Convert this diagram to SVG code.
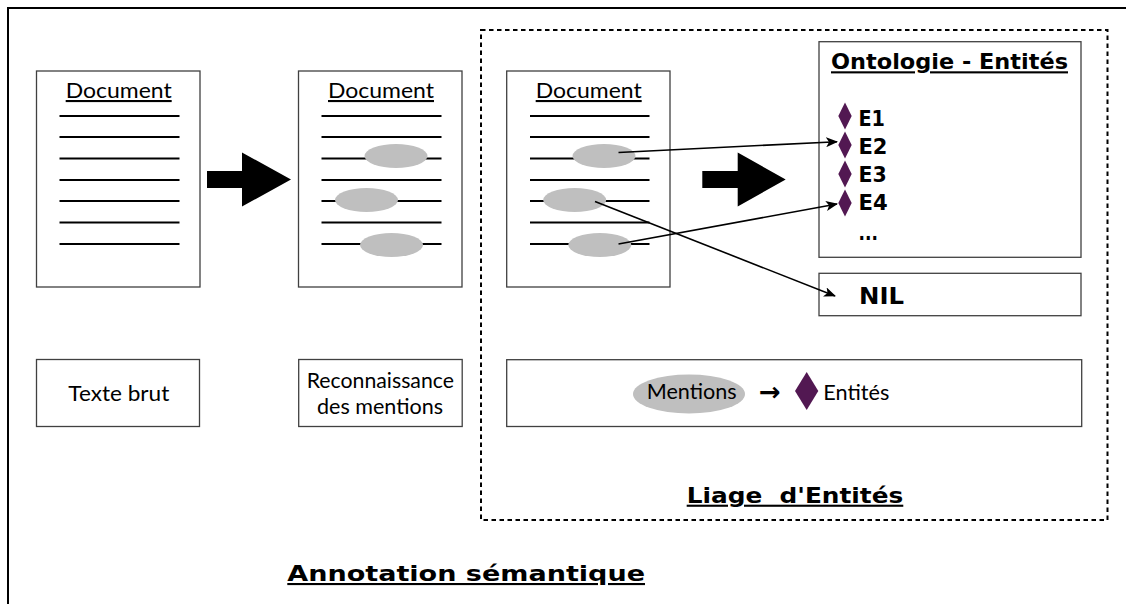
<svg xmlns="http://www.w3.org/2000/svg" width="1126" height="604" viewBox="0 0 1126 604">
<defs>
<style>
text{font-family:Lato,"Open Sans","Liberation Sans",sans-serif;fill:#000}
.doc{fill:#fff;stroke:#404040;stroke-width:1.3}
.ln{stroke:#000;stroke-width:2}
.ell{fill:#bfbfbf}
.dia{fill:#521852}
.hd{font-size:21px;text-decoration:underline}
.reg{font-size:21px}
.b{font-family:"DejaVu Sans","Open Sans",sans-serif;font-weight:bold;font-size:21px}
.con{stroke:#000;stroke-width:1.6;fill:none;marker-end:url(#ah)}
.big{fill:#000}
</style>
<marker id="ah" viewBox="0 0 12 10" refX="11" refY="5" markerWidth="12" markerHeight="10" markerUnits="userSpaceOnUse" orient="auto">
<path d="M0,0 L12,5 L0,10 L3,5 z" fill="#000"/>
</marker>
</defs>
<rect x="8" y="8" width="1130" height="610" fill="#fff" stroke="#000" stroke-width="2"/>
<rect id="liage-frame" x="481" y="30" width="626.5" height="490" fill="none" stroke="#000" stroke-width="2" stroke-dasharray="4.5 3.5"/>

<g id="doc1">
<rect class="doc" x="36.5" y="71" width="163.5" height="216"/>
<text class="hd" x="65.7" y="98" textLength="106" lengthAdjust="spacingAndGlyphs">Document</text>
<g class="ln">
<line x1="59.5" y1="116" x2="179.5" y2="116"/><line x1="59.5" y1="137" x2="179.5" y2="137"/><line x1="59.5" y1="158.5" x2="179.5" y2="158.5"/><line x1="59.5" y1="180" x2="179.5" y2="180"/><line x1="59.5" y1="201" x2="179.5" y2="201"/><line x1="59.5" y1="222.5" x2="179.5" y2="222.5"/><line x1="59.5" y1="244" x2="179.5" y2="244"/>
</g>
</g>

<g id="doc2">
<rect class="doc" x="298.5" y="71" width="163.5" height="216"/>
<text class="hd" x="328" y="98" textLength="106" lengthAdjust="spacingAndGlyphs">Document</text>
<g class="ln">
<line x1="321.5" y1="116" x2="441.5" y2="116"/><line x1="321.5" y1="137" x2="441.5" y2="137"/><line x1="321.5" y1="158.5" x2="441.5" y2="158.5"/><line x1="321.5" y1="180" x2="441.5" y2="180"/><line x1="321.5" y1="201" x2="441.5" y2="201"/><line x1="321.5" y1="222.5" x2="441.5" y2="222.5"/><line x1="321.5" y1="244" x2="441.5" y2="244"/>
</g>
<ellipse class="ell" cx="396" cy="156" rx="31.5" ry="12"/>
<ellipse class="ell" cx="366.5" cy="200" rx="31.5" ry="12"/>
<ellipse class="ell" cx="391.5" cy="245" rx="31.5" ry="12"/>
</g>

<g id="doc3">
<rect class="doc" x="506.7" y="71" width="163.3" height="216"/>
<text class="hd" x="535.7" y="98" textLength="106" lengthAdjust="spacingAndGlyphs">Document</text>
<g class="ln">
<line x1="530" y1="116" x2="649.5" y2="116"/><line x1="530" y1="137" x2="649.5" y2="137"/><line x1="530" y1="158.5" x2="649.5" y2="158.5"/><line x1="530" y1="180" x2="649.5" y2="180"/><line x1="530" y1="201" x2="649.5" y2="201"/><line x1="530" y1="222.5" x2="649.5" y2="222.5"/><line x1="530" y1="244" x2="649.5" y2="244"/>
</g>
<ellipse class="ell" cx="604" cy="156" rx="31.5" ry="12"/>
<ellipse class="ell" cx="574.7" cy="200" rx="31.5" ry="12"/>
<ellipse class="ell" cx="599.8" cy="245" rx="31.5" ry="12"/>
</g>

<g id="bigarrow1"><path class="big" d="M207,171 L242,171 L242,152.5 L291,179.5 L242,206.5 L242,188 L207,188 z"/></g>
<g id="bigarrow2"><path class="big" d="M702.3,171 L737.7,171 L737.7,152.5 L785.7,179.5 L737.7,206.5 L737.7,188 L702.3,188 z"/></g>

<g id="ontologie">
<rect class="doc" x="819" y="41.7" width="262" height="215.6"/>
<text class="b" x="831" y="69.3" text-decoration="underline" textLength="237" lengthAdjust="spacingAndGlyphs">Ontologie - Entités</text>
<path class="dia" d="M845,102.5 L851.7,116 L845,129.5 L838.3,116 z"/>
<path class="dia" d="M845,131.5 L851.7,145 L845,158.5 L838.3,145 z"/>
<path class="dia" d="M845,160.5 L851.7,174 L845,187.5 L838.3,174 z"/>
<path class="dia" d="M845,189.5 L851.7,203 L845,216.5 L838.3,203 z"/>
<text class="b" x="858.5" y="125.7" textLength="26.5" lengthAdjust="spacingAndGlyphs">E1</text>
<text class="b" x="858.5" y="154" textLength="29" lengthAdjust="spacingAndGlyphs">E2</text>
<text class="b" x="858.5" y="181.7" textLength="28.3" lengthAdjust="spacingAndGlyphs">E3</text>
<text class="b" x="858.5" y="210" textLength="29.2" lengthAdjust="spacingAndGlyphs">E4</text>
<text class="b" x="858.5" y="240" textLength="19.4" lengthAdjust="spacingAndGlyphs">...</text>
</g>

<g id="nil">
<rect class="doc" x="819" y="273.3" width="262" height="42.4"/>
<text class="b" style="font-size:22.5px" x="859" y="304" textLength="45" lengthAdjust="spacingAndGlyphs">NIL</text>
</g>

<g id="texte-brut">
<rect class="doc" x="36.5" y="359.5" width="163" height="67"/>
<text class="reg" x="68.3" y="400.7" textLength="101" lengthAdjust="spacingAndGlyphs">Texte brut</text>
</g>

<g id="reconnaissance">
<rect class="doc" x="298.7" y="359.5" width="163.5" height="67"/>
<text class="reg" x="306.7" y="387.7" textLength="147.3" lengthAdjust="spacingAndGlyphs">Reconnaissance</text>
<text class="reg" x="317" y="414" textLength="126" lengthAdjust="spacingAndGlyphs">des mentions</text>
</g>

<g id="legende">
<rect class="doc" x="506.7" y="359.7" width="575" height="66.8"/>
<ellipse class="ell" cx="689" cy="394" rx="56" ry="19.5"/>
<text class="reg" x="646.7" y="399.3" textLength="90" lengthAdjust="spacingAndGlyphs">Mentions</text>
<text x="770" y="401" text-anchor="middle" style="font-family:'DejaVu Sans',sans-serif;font-size:26px;font-weight:bold">→</text>
<path class="dia" d="M806.7,372 L818.3,391 L806.7,410 L795,391 z"/>
<text class="reg" x="823.3" y="400" textLength="66" lengthAdjust="spacingAndGlyphs">Entités</text>
</g>

<g id="titles">
<text class="b" x="686.7" y="502.7" text-decoration="underline" xml:space="preserve" textLength="216.6" lengthAdjust="spacingAndGlyphs">Liage  d'Entités</text>
<text class="b" x="287.3" y="581" text-decoration="underline" textLength="357.7" lengthAdjust="spacingAndGlyphs">Annotation sémantique</text>
</g>

<g id="connectors">
<line class="con" x1="618.5" y1="152.5" x2="837" y2="141.7"/>
<line class="con" x1="618.5" y1="244" x2="837" y2="204"/>
<line class="con" x1="595" y1="201.5" x2="835" y2="296"/>
</g>
</svg>
